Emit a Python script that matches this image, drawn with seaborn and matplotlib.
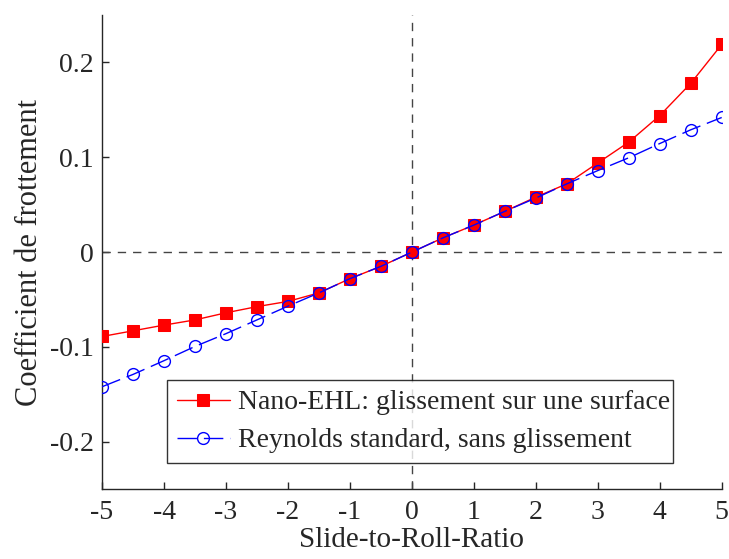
import numpy as np
import pandas as pd
import seaborn as sns
import matplotlib.pyplot as plt

# Slide-to-roll ratio and friction coefficients
srr = [-5, -4.5, -4, -3.5, -3, -2.5, -2, -1.5, -1, -0.5, 0,
       0.5, 1, 1.5, 2, 2.5, 3, 3.5, 4, 4.5, 5]
nano_ehl = [-0.089, -0.083, -0.077, -0.0715, -0.064, -0.0575, -0.052, -0.043, -0.028, -0.015, 0.0,
            0.015, 0.0285, 0.043, 0.058, 0.072, 0.094, 0.116, 0.144, 0.178, 0.219]
reynolds = [-0.142, -0.129, -0.1145, -0.0995, -0.086, -0.0715, -0.057, -0.043, -0.028, -0.015, 0.0,
            0.015, 0.0285, 0.043, 0.057, 0.072, 0.086, 0.0995, 0.1145, 0.129, 0.142]
label_nano = "Nano-EHL: glissement sur une surface"
label_rey = "Reynolds standard, sans glissement"

sns.set_style("ticks")
plt.rcParams['font.family'] = ['Liberation Serif', 'DejaVu Serif']
plt.rcParams['font.size'] = 20

df = pd.DataFrame({"srr": srr, "nano": nano_ehl, "rey": reynolds})

fig = plt.figure(figsize=(7.29, 5.59), dpi=100)
ax = fig.add_axes([0.14, 0.125, 0.85, 0.848])

ax.axhline(0, color="#444444", lw=1, ls=(0, (6, 5)), zorder=1)
ax.axvline(0, color="#444444", lw=1, ls=(0, (6, 5)), zorder=1)

sns.lineplot(data=df, x="srr", y="nano", ax=ax, color="red", lw=1,
             marker="s", markersize=9, markeredgecolor="red", label=label_nano, zorder=3)
sns.lineplot(data=df, x="srr", y="rey", ax=ax, color="blue", lw=1,
             marker="o", markersize=8.5, markerfacecolor="none", markeredgecolor="blue",
             markeredgewidth=1, dashes=False, label=label_rey, zorder=4)
ax.lines[-1].set_linestyle((0, (14, 5)))

ax.set_xlim(-5, 5)
ax.set_ylim(-0.25, 0.25)
ax.set_xticks(np.arange(-5, 6, 1))
ax.set_yticks([-0.2, -0.1, 0, 0.1, 0.2])
ax.set_yticklabels(["-0.2", "-0.1", "0", "0.1", "0.2"])
ax.set_xticklabels([str(v) if v >= 0 else "-" + str(-v) for v in range(-5, 6)])
ax.tick_params(direction="in", length=5, width=1, labelsize=20)
ax.tick_params(axis="x", pad=8)
ax.tick_params(axis="y", pad=6)
sns.despine(ax=ax)
ax.spines["left"].set_linewidth(1)
ax.spines["bottom"].set_linewidth(1)

ax.set_xlabel("Slide-to-Roll-Ratio", fontsize=21, labelpad=1)
ax.set_ylabel("Coefficient de frottement", fontsize=22, labelpad=4)

leg = ax.legend(loc="lower left", bbox_to_anchor=(0.105, 0.055, 0.816, 0.168), mode="expand",
                fontsize=20, frameon=True, fancybox=False, edgecolor="black",
                handlelength=1.9, borderaxespad=0, handletextpad=0.3,
                borderpad=0.35, labelspacing=0.45)
leg.get_frame().set_linewidth(1)

fig.savefig("out.png", dpi=100)
